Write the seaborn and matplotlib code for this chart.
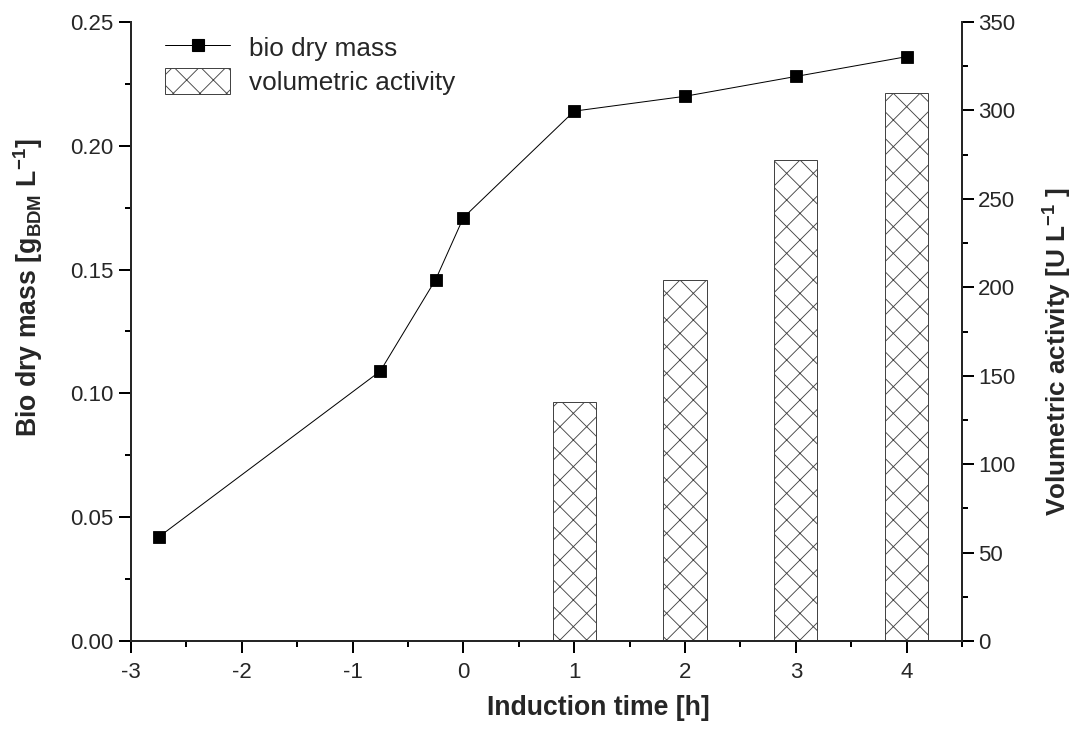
import matplotlib
matplotlib.use("Agg")
import matplotlib.pyplot as plt
import seaborn as sns
import pandas as pd
import numpy as np
from matplotlib.ticker import MultipleLocator, FormatStrFormatter
from matplotlib.lines import Line2D
from matplotlib.patches import Patch

# ---- data ----
time_h = [-2.75, -0.75, -0.25, 0.0, 1.0, 2.0, 3.0, 4.0]
bio_dry_mass = [0.042, 0.109, 0.146, 0.171, 0.214, 0.220, 0.228, 0.236]
act_time = [1, 2, 3, 4]
vol_activity = [135, 204, 272, 310]

sns.set_style("ticks")
plt.rcParams["font.family"] = ["Liberation Sans", "DejaVu Sans"]
plt.rcParams["mathtext.fontset"] = "custom"
plt.rcParams["mathtext.rm"] = "Liberation Sans"
plt.rcParams["mathtext.bf"] = "Liberation Sans:bold"
plt.rcParams["mathtext.it"] = "Liberation Sans:italic"
plt.rcParams["hatch.color"] = "#444444"
plt.rcParams["hatch.linewidth"] = 0.8

DPI = 80
fig = plt.figure(figsize=(1080 / DPI, 740 / DPI), dpi=DPI)
ax = fig.add_axes([131 / 1080, 1 - 641 / 740, (962 - 131) / 1080, (641 - 22) / 740])
ax2 = ax.twinx()

df_bdm = pd.DataFrame({"t": time_h, "bdm": bio_dry_mass})
df_act = pd.DataFrame({"t": act_time, "act": vol_activity})

sns.barplot(data=df_act, x="t", y="act", native_scale=True, width=0.39,
            color="white", edgecolor="#444444", linewidth=0.9, ax=ax2,
            err_kws={"linewidth": 0})
for p in ax2.patches:
    p.set_hatch("x")
    p.set_facecolor("white")
    p.set_edgecolor("#444444")

sns.lineplot(data=df_bdm, x="t", y="bdm", color="black", linewidth=0.9,
             marker="s", markersize=11, markeredgecolor="black",
             markerfacecolor="black", ax=ax, sort=False)

# put line above bars
ax.set_zorder(ax2.get_zorder() + 1)
ax.patch.set_visible(False)

ax.set_xlim(-3, 4.5)
ax.set_ylim(0, 0.25)
ax2.set_ylim(0, 350)

ax.xaxis.set_major_locator(MultipleLocator(1))
ax.xaxis.set_minor_locator(MultipleLocator(0.5))
ax.yaxis.set_major_locator(MultipleLocator(0.05))
ax.yaxis.set_minor_locator(MultipleLocator(0.025))
ax.yaxis.set_major_formatter(FormatStrFormatter("%.2f"))
ax.xaxis.set_major_formatter(FormatStrFormatter("%d"))
ax2.yaxis.set_major_locator(MultipleLocator(50))
ax2.yaxis.set_minor_locator(MultipleLocator(25))

for a in (ax, ax2):
    a.spines["top"].set_visible(False)
    for s in a.spines.values():
        s.set_linewidth(1.8)
    a.tick_params(which="major", direction="out", length=10.5, width=1.8,
                  labelsize=20, color="black")
    a.tick_params(which="minor", direction="out", length=5.5, width=1.8,
                  color="black")
ax2.spines["left"].set_visible(False)
ax2.spines["bottom"].set_visible(False)
ax.spines["right"].set_visible(False)
ax.tick_params(axis="x", pad=8)
ax.tick_params(axis="y", pad=5)
ax2.tick_params(axis="y", pad=4)

ax.set_xlabel("Induction time [h]", fontsize=24, fontweight="bold")
ax.set_ylabel(r"Bio dry mass [g$_{\mathbf{BDM}}$ L$^{\mathbf{-1}}$]",
              fontsize=24, fontweight="bold")
ax2.set_ylabel(r"Volumetric activity [U L$^{\mathbf{-1}}$ ]",
               fontsize=23.5, fontweight="bold")
ax.xaxis.set_label_coords(0.562, -0.088)
ax.yaxis.set_label_coords(-0.104, 0.57)
ax2.yaxis.set_label_coords(1.096, 0.467)

handles = [
    Line2D([0], [0], color="black", linewidth=0.9, marker="s", markersize=11,
           markerfacecolor="black", markeredgecolor="black"),
    Patch(facecolor="white", edgecolor="#444444", hatch="x", linewidth=0.9),
]
leg = ax.legend(handles, ["bio dry mass", "volumetric activity"],
                loc="upper left", bbox_to_anchor=(0.041, 0.981), frameon=False,
                fontsize=23.5, handlelength=2.5, handleheight=1.15,
                handletextpad=0.7, labelspacing=0.3, borderpad=0,
                borderaxespad=0)

fig.savefig("out.png", dpi=DPI)
